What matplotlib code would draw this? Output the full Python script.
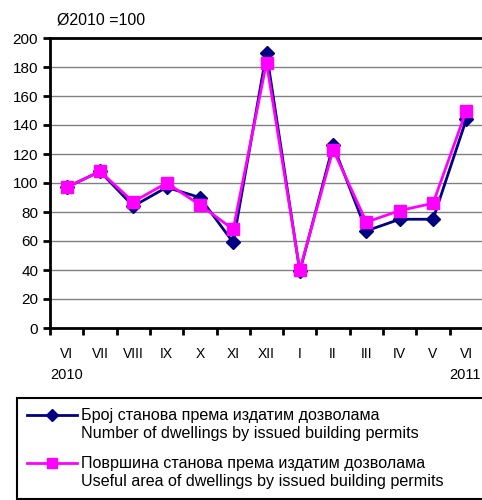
import matplotlib
matplotlib.use('Agg')
import matplotlib.pyplot as plt
from matplotlib.legend_handler import HandlerLine2D

plt.rcParams['font.family'] = ['Liberation Sans', 'DejaVu Sans']

months = ['VI', 'VII', 'VIII', 'IX', 'X', 'XI', 'XII', 'I', 'II', 'III', 'IV', 'V', 'VI']
dwellings = [97, 108, 84, 97, 90, 59, 190, 39, 126, 67, 75, 75, 144]
useful_area = [97, 108, 87, 100, 85, 68, 183, 40, 123, 73, 81, 86, 150]
yticks = [0, 20, 40, 60, 80, 100, 120, 140, 160, 180, 200]

label_dw = 'Број станова према издатим дозволама\nNumber of dwellings by issued building permits'
label_ar = 'Површина станова према издатим дозволама\nUseful area of dwellings by issued building permits'


# legend handle sits at the first text line, not the middle of the two lines
class TopLineHandler(HandlerLine2D):
    def create_artists(self, legend, orig_handle, xdescent, ydescent,
                       width, height, fontsize, trans):
        arts = super().create_artists(legend, orig_handle, xdescent, ydescent,
                                      width, height, fontsize, trans)
        for a in arts:
            a.set_ydata(a.get_ydata() + 0.6 * fontsize)
        return arts


fig = plt.figure(figsize=(4.82, 5.0), dpi=100)
ax = fig.add_axes([50 / 482, 1 - 328 / 500, 433 / 482, 290 / 500])

x = list(range(len(months)))
l1, = ax.plot(x, dwellings, color='#000080', lw=2, marker='D', ms=7, label=label_dw, zorder=3)
l2, = ax.plot(x, useful_area, color='#ff00ff', lw=2, marker='s', ms=8, label=label_ar, zorder=4)

ax.set_ylim(0, 200)
ax.set_yticks(yticks)
ax.set_xlim(-0.5, len(months) - 0.5)
ax.set_xticks([i - 0.5 for i in range(len(months) + 1)])
ax.set_xticklabels([])
ax.set_xticks(x, minor=True)
ax.set_xticklabels(months, minor=True)
ax.tick_params(axis='x', which='minor', length=0, pad=14, labelsize=10)
ax.tick_params(axis='x', which='major', length=5, width=2, direction='out')
ax.tick_params(axis='y', length=5, width=2, direction='out', labelsize=11)

ax.grid(axis='y', color='#808080', lw=1)
ax.set_axisbelow(True)
for s in ['left', 'bottom', 'top']:
    ax.spines[s].set_linewidth(2)
ax.spines['right'].set_visible(False)

fig.text(57 / 482, 1 - 20 / 500, 'Ø2010 =100', fontsize=11.5, va='center', ha='left')
fig.text(50 / 482, 1 - 375 / 500, '2010', fontsize=10.5, va='center', ha='left')
fig.text(481 / 482, 1 - 375 / 500, '2011', fontsize=10.5, va='center', ha='right')

leg = fig.legend(loc='upper left', bbox_to_anchor=(17 / 482, -0.05, 1.0, 1 - 398 / 500 + 0.05),
                 mode='expand', fontsize=11.6, frameon=True, fancybox=False,
                 edgecolor='black', framealpha=1, borderaxespad=0,
                 handlelength=3.1, handletextpad=0.2, labelspacing=0.95,
                 borderpad=0.65, markerscale=0.9,
                 handler_map={l1: TopLineHandler(), l2: TopLineHandler()})
leg.get_frame().set_linewidth(1.5)

fig.savefig('out.png', dpi=100)
